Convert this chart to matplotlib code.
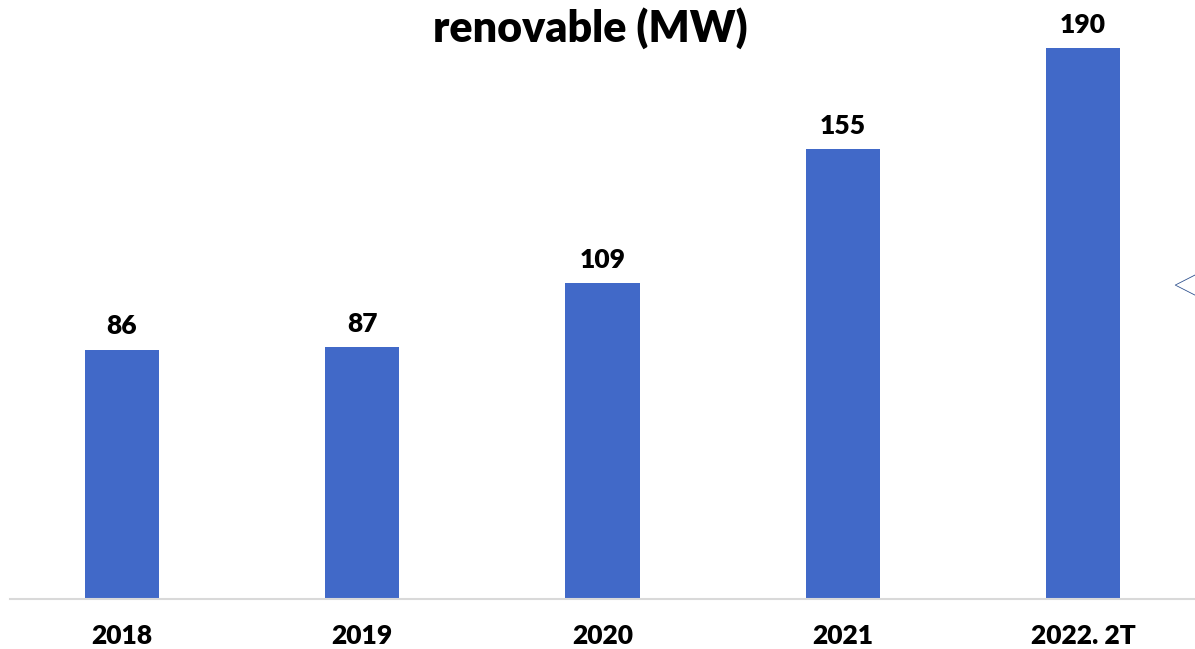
import matplotlib.pyplot as plt

# datos
years = ['2018', '2019', '2020', '2021', '2022. 2T']
mw = [86, 87, 109, 155, 190]

plt.rcParams['font.family'] = ['Lato', 'DejaVu Sans']

fig = plt.figure(figsize=(11.95, 6.49), dpi=100)
ax = fig.add_axes([10/1195, 50/649, 1185/1195, 599/649])

x = range(len(years))
bars = ax.bar(x, mw, width=0.31, color='#4169C8', zorder=2)

for b, v in zip(bars, mw):
    ax.annotate(str(v), (b.get_x() + b.get_width()/2, v),
                xytext=(0, 8), textcoords='offset points',
                ha='center', va='bottom', fontsize=19, fontweight='heavy')

ax.set_xlim(-0.466, 4.466)
ax.set_ylim(0, 206.5)
ax.set_xticks(list(x))
ax.set_xticklabels(years, fontsize=19, fontweight='heavy')
ax.tick_params(axis='x', length=0, pad=18)
ax.set_yticks([])
for s in ['top', 'right', 'left']:
    ax.spines[s].set_visible(False)
ax.spines['bottom'].set_color('#D9D9D9')
ax.spines['bottom'].set_linewidth(1.5)

fig.text(590/1195, 1 - 28/649, 'renovable (MW)', ha='center', va='center',
         fontsize=31, fontweight='heavy')
# flecha de navegacion cortada en el borde derecho
fig.text(1166/1195, 1 - 291/649, '<', ha='left', va='center',
         fontsize=62, color='#2B4E8C', fontweight='light')

fig.savefig('out.png', dpi=100)
